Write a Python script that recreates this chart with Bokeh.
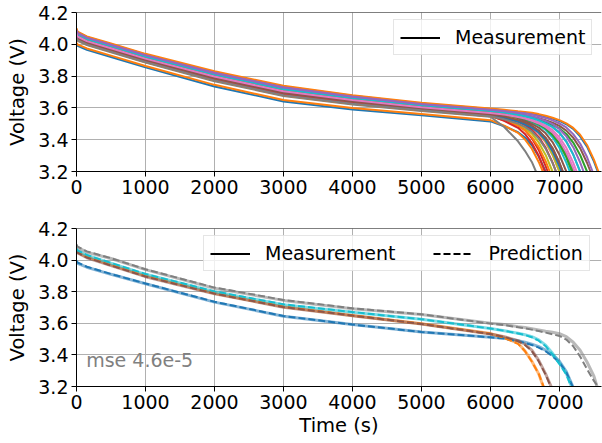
from bokeh.plotting import figure
from bokeh.layouts import column
from bokeh.models import Legend, LegendItem, PrintfTickFormatter, Span, FixedTicker
from bokeh.core.properties import value
from bokeh.embed import file_html
from bokeh.resources import INLINE

# ---------------- data ----------------
TAB10 = ["#1f77b4", "#ff7f0e", "#2ca02c", "#d62728", "#9467bd",
         "#8c564b", "#e377c2", "#7f7f7f", "#bcbd22", "#17becf"]

X_TICKS = [0, 1000, 2000, 3000, 4000, 5000, 6000, 7000]
Y_TICKS = [3.2, 3.4, 3.6, 3.8, 4.0, 4.2]

# common time grid (s) for the measured discharge curves
T_GRID = [0, 15, 150, 500, 1000, 2000, 3000, 4000, 5000, 6000,
          6200, 6400, 6500, 6600, 6700, 6800, 6900, 7000, 7100, 7200, 7300, 7400, 7500]

# top panel: voltage of each cycle on T_GRID until cut-off, and the cut-off time
TOP_V = [
    [4.000, 3.990, 3.965, 3.920, 3.855, 3.735, 3.640, 3.590, 3.553, 3.515, 3.485, 3.447, 3.414, 3.365, 3.294],
    [4.010, 3.999, 3.974, 3.929, 3.864, 3.745, 3.650, 3.599, 3.561, 3.523, 3.488, 3.443, 3.402, 3.343, 3.260],
    [4.055, 4.040, 4.012, 3.967, 3.902, 3.787, 3.695, 3.640, 3.596, 3.560, 3.551, 3.534, 3.524, 3.510, 3.492, 3.469, 3.434, 3.380, 3.303],
    [4.060, 4.044, 4.016, 3.971, 3.906, 3.792, 3.700, 3.644, 3.600, 3.564, 3.533, 3.494, 3.461, 3.409, 3.336, 3.234],
    [4.080, 4.062, 4.033, 3.988, 3.923, 3.811, 3.720, 3.662, 3.616, 3.581, 3.572, 3.560, 3.550, 3.539, 3.525, 3.506, 3.482, 3.446, 3.390, 3.308],
    [4.075, 4.058, 4.029, 3.984, 3.919, 3.806, 3.715, 3.658, 3.612, 3.577, 3.568, 3.559, 3.553, 3.545, 3.535, 3.522, 3.507, 3.487, 3.457, 3.412, 3.347, 3.255],
    [4.050, 4.035, 4.008, 3.963, 3.898, 3.783, 3.690, 3.635, 3.593, 3.556, 3.539, 3.515, 3.496, 3.473, 3.437, 3.383, 3.304],
    [4.035, 4.022, 3.995, 3.950, 3.885, 3.768, 3.675, 3.622, 3.581, 3.544, 3.480, 3.390, 3.330, 3.260],
    [4.045, 4.031, 4.003, 3.958, 3.893, 3.778, 3.685, 3.631, 3.589, 3.552, 3.529, 3.497, 3.473, 3.438, 3.383, 3.304],
    [4.065, 4.049, 4.020, 3.975, 3.910, 3.797, 3.705, 3.649, 3.604, 3.568, 3.557, 3.539, 3.527, 3.511, 3.491, 3.461, 3.415, 3.349, 3.256],
    [4.095, 4.076, 4.046, 4.001, 3.936, 3.825, 3.735, 3.676, 3.628, 3.593, 3.584, 3.575, 3.570, 3.564, 3.556, 3.546, 3.533, 3.518, 3.497, 3.468, 3.421, 3.356, 3.264],
    [4.040, 4.026, 3.999, 3.954, 3.889, 3.773, 3.680, 3.626, 3.585, 3.548, 3.521, 3.487, 3.459, 3.416, 3.353, 3.265],
    [4.070, 4.053, 4.025, 3.980, 3.915, 3.802, 3.710, 3.653, 3.608, 3.572, 3.563, 3.554, 3.546, 3.537, 3.527, 3.513, 3.494, 3.471, 3.436, 3.382, 3.304],
    [4.055, 4.040, 4.012, 3.967, 3.902, 3.787, 3.695, 3.640, 3.596, 3.560, 3.540, 3.512, 3.492, 3.462, 3.416, 3.350, 3.257],
    [4.085, 4.067, 4.037, 3.992, 3.927, 3.816, 3.725, 3.667, 3.620, 3.585, 3.576, 3.565, 3.557, 3.547, 3.534, 3.518, 3.498, 3.467, 3.421, 3.353, 3.258],
    [4.060, 4.044, 4.016, 3.971, 3.906, 3.792, 3.700, 3.644, 3.600, 3.564, 3.552, 3.532, 3.518, 3.499, 3.476, 3.440, 3.385, 3.305],
    [4.070, 4.053, 4.025, 3.980, 3.915, 3.802, 3.710, 3.653, 3.608, 3.572, 3.563, 3.549, 3.538, 3.526, 3.510, 3.490, 3.460, 3.415, 3.349, 3.256],
    [4.050, 4.035, 4.008, 3.963, 3.898, 3.783, 3.690, 3.635, 3.593, 3.556, 3.542, 3.519, 3.504, 3.484, 3.455, 3.410, 3.346, 3.255],
    [4.060, 4.044, 4.016, 3.971, 3.906, 3.792, 3.700, 3.644, 3.600, 3.564, 3.547, 3.522, 3.503, 3.480, 3.443, 3.388, 3.307],
    [4.075, 4.058, 4.029, 3.984, 3.919, 3.806, 3.715, 3.658, 3.612, 3.577, 3.568, 3.556, 3.547, 3.536, 3.522, 3.503, 3.479, 3.443, 3.387, 3.306],
    [4.045, 4.031, 4.003, 3.958, 3.893, 3.778, 3.685, 3.631, 3.589, 3.552, 3.537, 3.514, 3.497, 3.476, 3.445, 3.397, 3.328, 3.232],
    [4.100, 4.080, 4.050, 4.005, 3.940, 3.830, 3.740, 3.680, 3.632, 3.597, 3.588, 3.579, 3.575, 3.569, 3.561, 3.551, 3.538, 3.523, 3.503, 3.474, 3.431, 3.367, 3.275],
    [4.065, 4.049, 4.020, 3.975, 3.910, 3.797, 3.705, 3.649, 3.604, 3.568, 3.559, 3.541, 3.530, 3.515, 3.496, 3.471, 3.430, 3.372, 3.289],
    [4.045, 4.031, 4.003, 3.958, 3.893, 3.778, 3.685, 3.631, 3.589, 3.552, 3.518, 3.475, 3.436, 3.379, 3.299],
    [4.090, 4.071, 4.042, 3.997, 3.932, 3.821, 3.730, 3.671, 3.624, 3.589, 3.580, 3.571, 3.567, 3.558, 3.548, 3.537, 3.522, 3.502, 3.477, 3.435, 3.376, 3.291],
    [4.055, 4.040, 4.012, 3.967, 3.902, 3.787, 3.695, 3.640, 3.596, 3.560, 3.546, 3.523, 3.508, 3.488, 3.458, 3.413, 3.348, 3.255],
    [4.065, 4.049, 4.020, 3.975, 3.910, 3.797, 3.705, 3.649, 3.604, 3.568, 3.559, 3.543, 3.533, 3.519, 3.502, 3.479, 3.446, 3.395, 3.321, 3.223],
    [4.040, 4.026, 3.999, 3.954, 3.889, 3.773, 3.680, 3.626, 3.585, 3.548, 3.528, 3.501, 3.481, 3.452, 3.408, 3.344, 3.254],
]
TOP_END = [6800, 6760, 7200, 6830, 7300, 7450, 7000, 6660, 6900, 7150,
           7555, 6860, 7400, 6950, 7350, 7100, 7250, 7050, 7000, 7300,
           7030, 7565, 7180, 6790, 7480, 7050, 7220, 6950]
CUTOFF_V = 3.2

# bottom panel: measured vs predicted for five test cycles
BOT_COLOR_IDX = [0, 1, 5, 9, 7]
BOT_MEAS = [
    [3.990, 3.980, 3.955, 3.910, 3.850, 3.734, 3.645, 3.592, 3.545, 3.512, 3.505, 3.490, 3.480, 3.468, 3.452, 3.430, 3.400, 3.360, 3.295],
    [4.060, 4.050, 4.020, 3.970, 3.900, 3.790, 3.705, 3.650, 3.597, 3.535, 3.510, 3.475, 3.425, 3.360, 3.280],
    [4.055, 4.045, 4.015, 3.965, 3.895, 3.787, 3.702, 3.648, 3.595, 3.532, 3.515, 3.490, 3.468, 3.430, 3.365, 3.280],
    [4.070, 4.060, 4.030, 3.980, 3.910, 3.800, 3.718, 3.670, 3.625, 3.567, 3.553, 3.537, 3.528, 3.515, 3.495, 3.462, 3.410, 3.350, 3.283],
    [4.090, 4.080, 4.050, 4.010, 3.940, 3.822, 3.745, 3.692, 3.655, 3.600, 3.592, 3.579, 3.573, 3.566, 3.558, 3.550, 3.543, 3.534, 3.515, 3.480, 3.430, 3.355, 3.265],
]
BOT_MEAS_END = [7195, 6765, 6880, 7175, 7545]
BOT_PRED = [
    [3.995, 3.985, 3.958, 3.912, 3.852, 3.736, 3.646, 3.592, 3.545, 3.511, 3.503, 3.487, 3.476, 3.463, 3.446, 3.423, 3.392, 3.352, 3.290],
    [4.062, 4.050, 4.020, 3.970, 3.900, 3.790, 3.705, 3.650, 3.597, 3.534, 3.508, 3.470, 3.425, 3.358, 3.280],
    [4.058, 4.047, 4.016, 3.966, 3.896, 3.788, 3.703, 3.649, 3.596, 3.532, 3.514, 3.488, 3.463, 3.425, 3.360, 3.275],
    [4.072, 4.062, 4.032, 3.982, 3.912, 3.802, 3.720, 3.671, 3.626, 3.567, 3.553, 3.536, 3.526, 3.512, 3.490, 3.455, 3.403, 3.342, 3.276],
    [4.100, 4.085, 4.055, 4.012, 3.942, 3.826, 3.748, 3.695, 3.657, 3.598, 3.589, 3.575, 3.568, 3.560, 3.551, 3.541, 3.531, 3.520, 3.497, 3.455, 3.390, 3.310, 3.235],
]
BOT_PRED_END = [7190, 6770, 6875, 7170, 7560]
MSE_LABEL = "mse 4.6e-5"

FONT = "DejaVu Sans"
X_MAX = 7610


def curve(v, end):
    return list(T_GRID[:len(v)]) + [end], list(v) + [CUTOFF_V]


def style(p, xlabel=None):
    p.outline_line_color = None
    p.background_fill_color = "white"
    p.border_fill_color = "white"
    for ax in (p.xaxis[0], p.yaxis[0]):
        ax.axis_line_color = "black"
        ax.axis_line_width = 1
        ax.major_tick_line_color = "black"
        ax.major_tick_out = 5
        ax.major_tick_in = 0
        ax.minor_tick_line_color = None
        ax.major_label_text_font = FONT
        ax.major_label_text_font_size = "19px"
        ax.major_label_text_color = "black"
        ax.axis_label_text_font = FONT
        ax.axis_label_text_font_size = "19.5px"
        ax.axis_label_text_font_style = "normal"
        ax.axis_label_text_color = "black"
        ax.major_label_standoff = 3
        ax.axis_label_standoff = 6
    p.xaxis.ticker = FixedTicker(ticks=X_TICKS)
    p.yaxis.ticker = FixedTicker(ticks=Y_TICKS)
    p.yaxis.formatter = PrintfTickFormatter(format="%.1f")
    p.yaxis.axis_label = "Voltage (V)"
    if xlabel:
        p.xaxis.axis_label = xlabel
        p.xaxis.axis_label_standoff = 2
    p.grid.grid_line_color = "#b0b0b0"
    p.grid.grid_line_width = 1
    p.add_layout(Span(location=Y_TICKS[-1], dimension="width", line_color="black", line_width=1))


def legend_style(lg):
    lg.label_text_font = FONT
    lg.label_text_font_size = "19px"
    lg.label_text_color = "black"
    lg.glyph_width = 40
    lg.glyph_height = 21
    lg.label_height = 21
    lg.label_standoff = 15
    lg.padding = 6
    lg.margin = 0
    lg.border_line_color = "#cccccc"
    lg.border_line_width = 1
    lg.background_fill_alpha = 0.8


# proxy renderers for legend samples (drawn outside the visible range)
PROXY_X = [-2000, -1000]
PROXY_Y = [3.0, 3.0]

# ---------------- top panel ----------------
p1 = figure(width=602, height=216, x_range=(0, X_MAX), y_range=(3.2, 4.2),
            output_backend="svg", toolbar_location=None,
            min_border_left=76, min_border_right=1, min_border_top=12, min_border_bottom=45)
style(p1)
for i, (v, e) in enumerate(zip(TOP_V, TOP_END)):
    xs, ys = curve(v, e)
    p1.line(xs, ys, line_color=TAB10[i % 10], line_width=2)
r_meas1 = p1.line(PROXY_X, PROXY_Y, line_color="black", line_width=2)
lg1 = Legend(items=[LegendItem(label="Measurement", renderers=[r_meas1])], location=(317, 116))
legend_style(lg1)
p1.add_layout(lg1)

# ---------------- bottom panel ----------------
p2 = figure(width=602, height=227, x_range=(0, X_MAX), y_range=(3.2, 4.2),
            output_backend="svg", toolbar_location=None,
            min_border_left=76, min_border_right=1, min_border_top=12, min_border_bottom=57)
style(p2, "Time (s)")
for ci, v, e in zip(BOT_COLOR_IDX, BOT_MEAS, BOT_MEAS_END):
    xs, ys = curve(v, e)
    p2.line(xs, ys, line_color=TAB10[ci], line_width=3, line_alpha=0.55)
for ci, v, e in zip(BOT_COLOR_IDX, BOT_PRED, BOT_PRED_END):
    xs, ys = curve(v, e)
    p2.line(xs, ys, line_color=TAB10[ci], line_width=2, line_dash="7 3")
p2.text(x=[140], y=[3.37], text=[MSE_LABEL], text_font=value(FONT), text_font_size="19px",
        text_color="#808080", text_baseline="alphabetic", text_align="left")
r_m = p2.line(PROXY_X, PROXY_Y, line_color="black", line_width=2)
r_p = p2.line(PROXY_X, PROXY_Y, line_color="black", line_width=2, line_dash="7 3")
lg2 = Legend(items=[LegendItem(label="Measurement", renderers=[r_m]),
                    LegendItem(label="Prediction", renderers=[r_p])],
             location=(127, 115), orientation="horizontal")
legend_style(lg2)
lg2.spacing = 38
p2.add_layout(lg2)

layout = column(p1, p2, spacing=0)
open("out.html", "w").write(file_html(layout, INLINE))
